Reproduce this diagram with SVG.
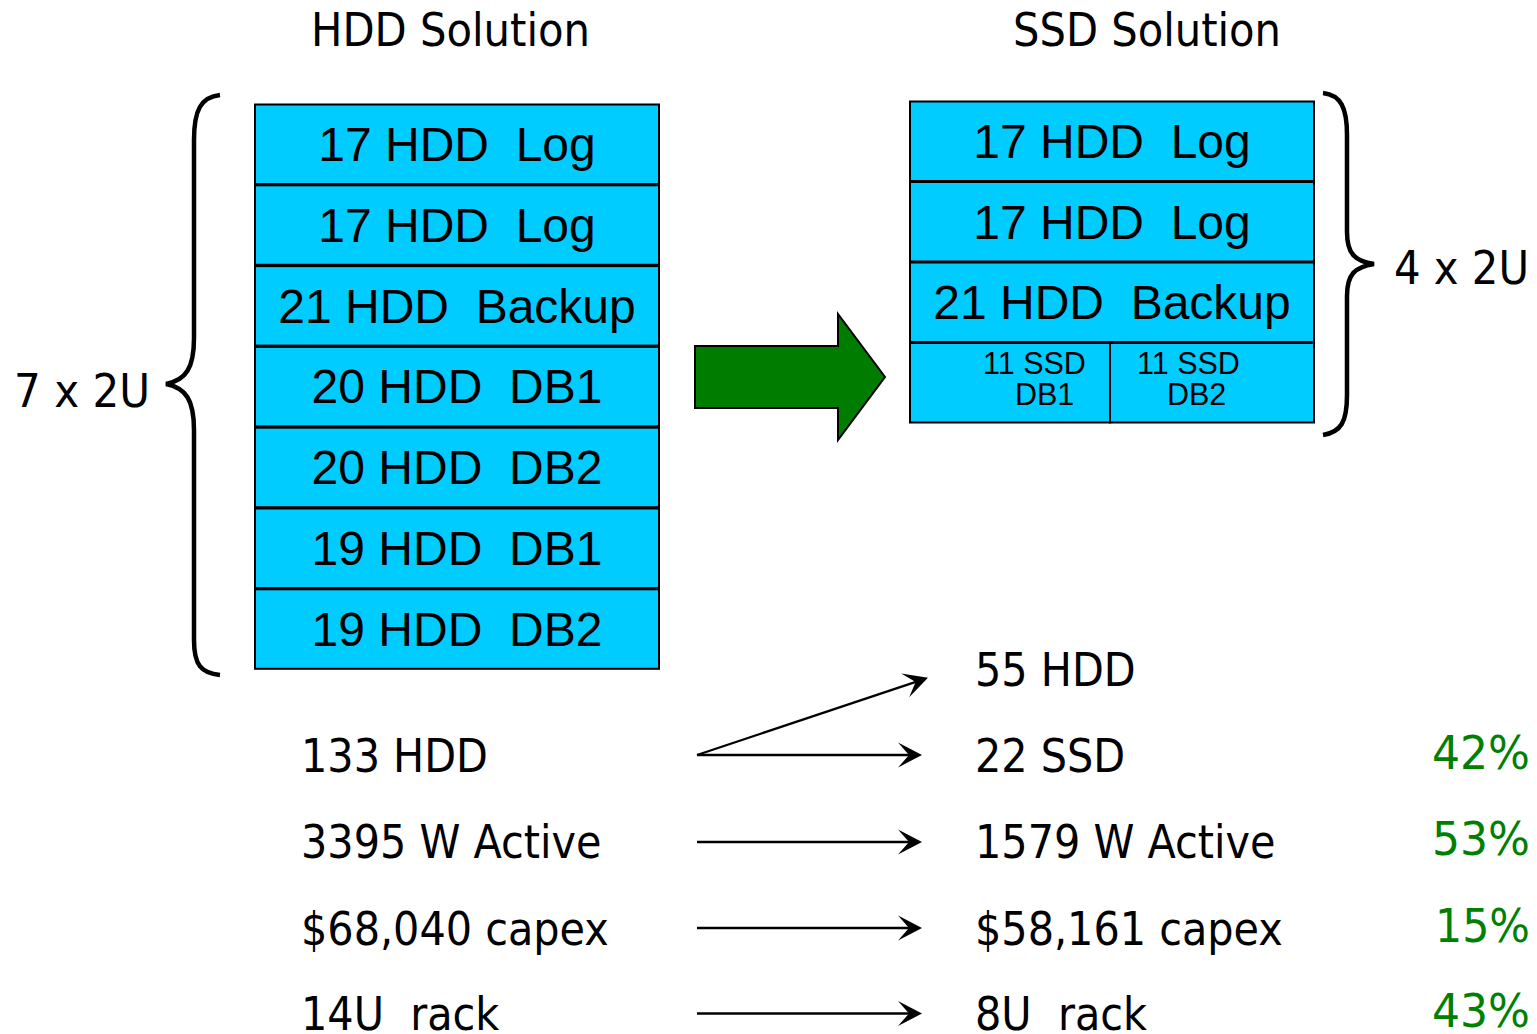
<svg xmlns="http://www.w3.org/2000/svg" width="1537" height="1034" viewBox="0 0 1537 1034">
<style>
text{white-space:pre}
.box{fill:#00CCFF;stroke:#000;stroke-width:2}
.bt{font-family:"Liberation Sans",Arial,sans-serif;font-size:48px;fill:#000;text-anchor:middle}
.st{font-family:"Liberation Sans",Arial,sans-serif;font-size:30.5px;fill:#000}
.t{font-family:"DejaVu Sans Condensed","DejaVu Sans",sans-serif;font-stretch:condensed;font-size:46px;fill:#000}
.p{font-family:"DejaVu Sans Condensed","DejaVu Sans",sans-serif;font-stretch:condensed;font-size:46px;fill:#008000}
.brace{fill:none;stroke:#000;stroke-width:4.5;stroke-linecap:butt}
.conn{fill:none;stroke:#000;stroke-width:2.3}
</style>
<defs>
<marker id="ah" markerUnits="userSpaceOnUse" markerWidth="26" markerHeight="26" viewBox="0 0 26 26" refX="14" refY="13" orient="auto">
<path d="M26,13 L2,0.5 L13,13 L2,25.5 Z" fill="#000"/>
</marker>
</defs>

<g id="title-hdd"><text class="t" x="311" y="46" textLength="279" lengthAdjust="spacingAndGlyphs">HDD Solution</text></g>
<g id="title-ssd"><text class="t" x="1013" y="46" textLength="268" lengthAdjust="spacingAndGlyphs">SSD Solution</text></g>

<g id="hdd-1"><rect class="box" x="255" y="104.5" width="404" height="79.5"/><text class="bt" x="457" y="161">17 HDD &#160;Log</text></g>
<g id="hdd-2"><rect class="box" x="255" y="185.3" width="404" height="79.5"/><text class="bt" x="457" y="241.8">17 HDD &#160;Log</text></g>
<g id="hdd-3"><rect class="box" x="255" y="266.1" width="404" height="79.5"/><text class="bt" x="457" y="322.6">21 HDD &#160;Backup</text></g>
<g id="hdd-4"><rect class="box" x="255" y="346.9" width="404" height="79.5"/><text class="bt" x="457" y="403.4">20 HDD &#160;DB1</text></g>
<g id="hdd-5"><rect class="box" x="255" y="427.7" width="404" height="79.5"/><text class="bt" x="457" y="484.2">20 HDD &#160;DB2</text></g>
<g id="hdd-6"><rect class="box" x="255" y="508.5" width="404" height="79.5"/><text class="bt" x="457" y="565">19 HDD &#160;DB1</text></g>
<g id="hdd-7"><rect class="box" x="255" y="589.3" width="404" height="79.5"/><text class="bt" x="457" y="645.8">19 HDD &#160;DB2</text></g>

<g id="ssd-1"><rect class="box" x="910" y="101.5" width="404" height="79.5"/><text class="bt" x="1112" y="158">17 HDD &#160;Log</text></g>
<g id="ssd-2"><rect class="box" x="910" y="182" width="404" height="79.5"/><text class="bt" x="1112" y="238.5">17 HDD &#160;Log</text></g>
<g id="ssd-3"><rect class="box" x="910" y="262.5" width="404" height="79.5"/><text class="bt" x="1112" y="319">21 HDD &#160;Backup</text></g>
<g id="ssd-4a"><rect class="box" x="910" y="343" width="200" height="79.5"/><text class="st" x="983" y="374">11 SSD</text><text class="st" x="1015" y="405">DB1</text></g>
<g id="ssd-4b"><rect class="box" x="1110" y="343" width="204" height="79.5"/><text class="st" x="1137" y="374">11 SSD</text><text class="st" x="1167" y="405">DB2</text></g>

<g id="brace-left"><path class="brace" d="M220,95 C201,97 194,110 194,140 L194,338 C194,368 186,380 166,384 C186,388 194,400 194,430 L194,640 C194,665 201,673 220,675"/><text class="t" x="14" y="407" textLength="136" lengthAdjust="spacingAndGlyphs">7 x 2U</text></g>
<g id="brace-right"><path class="brace" d="M1323,93 C1341,95 1347,108 1347,135 L1347,232 C1347,254 1355,261 1374,264 C1355,267 1347,274 1347,296 L1347,395 C1347,422 1341,432 1323,435"/><text class="t" x="1394" y="284" textLength="135" lengthAdjust="spacingAndGlyphs">4 x 2U</text></g>

<g id="big-arrow"><path d="M695,346 L838,346 L838,314 L885,377 L838,440 L838,408 L695,408 Z" fill="#007D00" stroke="#000" stroke-width="2"/></g>

<g id="hdd-stats">
<text class="t" x="301" y="772">133 HDD</text>
<text class="t" x="301" y="858">3395 W Active</text>
<text class="t" x="301" y="945">$68,040 capex</text>
<text class="t" x="301" y="1030">14U &#160;rack</text>
</g>
<g id="ssd-stats">
<text class="t" x="975" y="686">55 HDD</text>
<text class="t" x="975" y="772">22 SSD</text>
<text class="t" x="975" y="858">1579 W Active</text>
<text class="t" x="975" y="945">$58,161 capex</text>
<text class="t" x="975" y="1030">8U &#160;rack</text>
</g>
<g id="savings">
<text class="p" x="1432" y="769" textLength="98" lengthAdjust="spacingAndGlyphs">42%</text>
<text class="p" x="1432" y="855" textLength="98" lengthAdjust="spacingAndGlyphs">53%</text>
<text class="p" x="1435" y="942" textLength="95" lengthAdjust="spacingAndGlyphs">15%</text>
<text class="p" x="1432" y="1027" textLength="98" lengthAdjust="spacingAndGlyphs">43%</text>
</g>

<g id="connectors">
<line class="conn" x1="697" y1="755" x2="916.6" y2="681.6" marker-end="url(#ah)"/>
<line class="conn" x1="697" y1="755" x2="910" y2="755" marker-end="url(#ah)"/>
<line class="conn" x1="697" y1="842" x2="910" y2="842" marker-end="url(#ah)"/>
<line class="conn" x1="697" y1="928" x2="910" y2="928" marker-end="url(#ah)"/>
<line class="conn" x1="697" y1="1013.5" x2="910" y2="1013.5" marker-end="url(#ah)"/>
</g>
</svg>
